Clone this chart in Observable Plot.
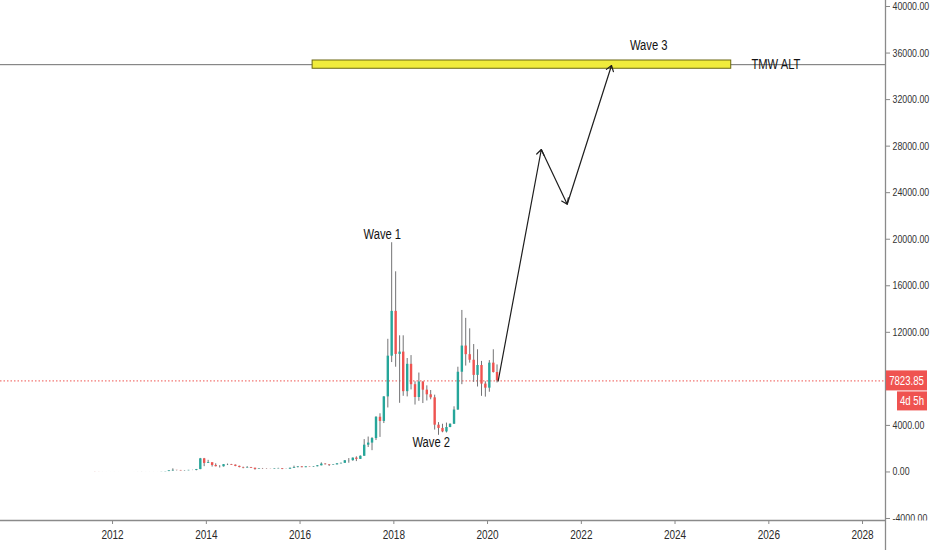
<!DOCTYPE html>
<html>
<head>
<meta charset="utf-8">
<script src="https://cdn.jsdelivr.net/npm/d3@7"></script>
<script src="https://cdn.jsdelivr.net/npm/@observablehq/plot@0.6"></script>
<style>
  html, body { margin: 0; padding: 0; background: #fff; }
  #chart { width: 932px; height: 550px; overflow: hidden; }
</style>
</head>
<body>
<div id="chart"></div>
<script>
// monthly candles, Aug 2011 .. Mar 2020
const firstMonth = "2011-08-01"
const lastMonth = "2020-04-01"

const open = [
  13.4, 8.2, 5.1, 3.2, 3.0,
  4.7, 5.5, 4.9, 4.9, 5.0, 5.2, 6.7, 9.3, 10.2, 12.4, 11.2, 12.6,
  13.5, 20.4, 33.4, 93, 139, 129, 97, 106, 135, 133, 204, 1129,
  732, 800, 560, 450, 445, 627, 640, 585, 480, 386, 338, 378,
  320, 218, 254, 244, 236, 230, 263, 284, 230, 236, 314, 377,
  430, 368, 437, 416, 448, 530, 673, 624, 573, 608, 700, 742,
  963, 970, 1190, 1080, 1348, 2300, 2480, 2870, 4700, 4340, 6450, 9950,
  13800, 10100, 10300, 6900, 9250, 7500, 6400, 7730, 7030, 6630, 6370, 4020,
  3740, 3440, 3820, 4100, 5320, 8570, 10820, 10080, 9600, 8300, 9150, 7550,
  7200, 9350, 8550
]
const high = [
  13.5, 8.6, 5.4, 3.5, 4.8,
  7.4, 6.3, 5.4, 5.3, 5.2, 6.7, 9.6, 15.4, 12.8, 12.8, 12.9, 13.8,
  21, 33.4, 95, 266, 140, 130, 111, 135, 146, 215, 1163, 1163,
  1000, 710, 700, 540, 630, 680, 650, 600, 500, 410, 460, 390,
  320, 280, 300, 260, 247, 267, 317, 285, 247, 334, 500, 465,
  462, 440, 440, 466, 550, 780, 705, 626, 630, 720, 755, 975,
  1150, 1200, 1300, 1380, 2780, 3000, 2950, 4750, 5000, 6470, 11400, 19700,
  17200, 11700, 11700, 9750, 10000, 7750, 8500, 7760, 7400, 7000, 6600, 4240,
  4100, 4200, 4130, 5600, 9000, 13880, 13200, 12300, 10950, 10500, 9500, 7750,
  9570, 10500, 9200
]
const low = [
  7.0, 4.7, 2.1, 2.0, 2.8,
  4.6, 4.2, 4.6, 4.7, 4.9, 5.2, 6.5, 7.1, 10.2, 9.8, 10.0, 12.2,
  13.1, 19.1, 33, 50, 86, 88, 65, 101, 117, 98, 196, 455,
  730, 420, 440, 340, 420, 550, 570, 450, 350, 275, 320, 300,
  152, 212, 235, 214, 226, 220, 253, 198, 225, 236, 300, 350,
  360, 366, 404, 412, 440, 520, 600, 470, 570, 605, 680, 742,
  750, 920, 890, 1070, 1350, 2100, 1830, 2700, 2970, 4160, 5500, 9400,
  9000, 5900, 6500, 6450, 7050, 5750, 6070, 5880, 6100, 6200, 3600, 3150,
  3370, 3350, 3800, 4080, 5300, 7500, 9100, 9350, 7700, 7300, 6500, 6430,
  6850, 8500, 7650
]
const close = [
  8.2, 5.1, 3.2, 3.0, 4.7,
  5.5, 4.9, 4.9, 5.0, 5.2, 6.7, 9.3, 10.2, 12.4, 11.2, 12.6, 13.5,
  20.4, 33.4, 93, 139, 129, 97, 106, 135, 133, 204, 1129, 732,
  800, 560, 450, 445, 627, 640, 585, 480, 386, 338, 378, 320,
  218, 254, 244, 236, 230, 263, 284, 230, 236, 314, 377, 430,
  368, 437, 416, 448, 530, 673, 624, 573, 608, 700, 742, 963,
  970, 1190, 1080, 1348, 2300, 2480, 2870, 4700, 4340, 6450, 9950, 13800,
  10100, 10300, 6900, 9250, 7500, 6400, 7730, 7030, 6630, 6370, 4020, 3740,
  3440, 3820, 4100, 5320, 8570, 10820, 10080, 9600, 8300, 9150, 7550, 7200,
  9350, 8550, 7823.85
]

const lastPrice = 7823.85
const timeLeft = "4d 5h"

// drawings
const zoneLevel = 35000
const zoneStart = "2016-04-08", zoneEnd = "2025-03-14"
const zoneLow = 34650, zoneHigh = 35360

const pathDates = ["2020-03-24", "2021-02-23", "2021-09-13", "2022-08-24"]
const pathValues = [7823.85, 27710, 23010, 34930]

const labelTexts = ["Wave 1", "Wave 2", "Wave 3"]
const labelDates = ["2017-10-03", "2018-10-19", "2023-06-10"]
const labelValues = [20400, 2560, 36650]

const levelName = "TMW ALT"
const levelNameDate = "2025-08-18"

const xTickYears = [2012, 2014, 2016, 2018, 2020, 2022, 2024, 2026, 2028]
const yTicks = [-4000, 0, 4000, 12000, 16000, 20000, 24000, 28000, 32000, 36000, 40000]

// build tables
const monthStarts = d3.utcMonth.range(new Date(firstMonth), new Date(lastMonth))
const candles = monthStarts.map((m, i) => ({
  date: d3.utcDay.offset(m, 14),
  open: open[i], high: high[i], low: low[i], close: close[i],
  up: close[i] >= open[i]
}))
const segments = pathDates.slice(1).map((d, i) => ({
  x1: new Date(pathDates[i]), y1: pathValues[i],
  x2: new Date(d), y2: pathValues[i + 1]
}))
const labels = labelTexts.map((t, i) => ({text: t, date: new Date(labelDates[i]), value: labelValues[i]}))

const font = "'Liberation Sans', Arial, sans-serif"

let chart = Plot.plot({
  width: 932,
  height: 550,
  marginLeft: 0,
  marginRight: 47,
  marginTop: 0,
  marginBottom: 30,
  style: {background: "#fff", fontFamily: font, overflow: "visible"},
  x: {type: "utc", domain: [new Date("2009-08-11"), new Date("2028-06-28")]},
  y: {domain: [-4172, 40516]},
  marks: [
    Plot.ruleY([zoneLevel], {stroke: "#6e6e6e", strokeWidth: 1}),
    Plot.rect([{x1: new Date(zoneStart), x2: new Date(zoneEnd), y1: zoneLow, y2: zoneHigh}],
      {x1: "x1", x2: "x2", y1: "y1", y2: "y2", fill: "#f0ec3c", stroke: "#6b6812", strokeWidth: 1}),
    Plot.ruleY([lastPrice], {stroke: "#ef5350", strokeWidth: 1, strokeDasharray: "1.5,2"}),

    // wicks + bodies
    Plot.ruleX(candles, {x: "date", y1: "low", y2: "high", stroke: "#737375", strokeWidth: 1}),
    Plot.ruleX(candles, {x: "date", y1: "open", y2: "close", strokeWidth: 2.4,
      stroke: d => d.up ? "#26a69a" : "#ef5350"}),

    Plot.arrow(segments, {x1: "x1", y1: "y1", x2: "x2", y2: "y2",
      stroke: "#1e1e1e", strokeWidth: 1.2, headLength: 8, headAngle: 70}),

    Plot.text(labels, {x: "date", y: "value", text: "text", fontSize: 14, fill: "#131313"}),
    Plot.text([levelName], {x: new Date(levelNameDate), y: zoneLevel, text: d => d,
      textAnchor: "start", fontSize: 14, fill: "#131313"}),

    Plot.axisX(xTickYears.map(y => new Date(Date.UTC(y, 0, 1))), {
      anchor: "bottom", tickFormat: "%Y", tickSize: 4, tickPadding: 6,
      fontSize: 12.5, fill: "#2a2a2a", stroke: "#888", label: null}),
    Plot.axisY(yTicks, {
      anchor: "right", tickFormat: d => d.toFixed(2), tickSize: 4, tickPadding: 3,
      fontSize: 11, fill: "#333", stroke: "#888", label: null}),
  ]
})

const svg = d3.select(chart)
const ys = chart.scale("y")
const py = ys.apply(lastPrice)

// price axis clipped under the time axis
svg.append("rect").attr("x", 886).attr("y", 520.5).attr("width", 46).attr("height", 30).attr("fill", "#fff")
// axis lines
svg.append("line").attr("x1", 0).attr("x2", 885.5).attr("y1", 520.5).attr("y2", 520.5)
  .attr("stroke", "#8a8a8a").attr("stroke-width", 1.3)
svg.append("line").attr("x1", 885.5).attr("x2", 885.5).attr("y1", 0).attr("y2", 550)
  .attr("stroke", "#8a8a8a").attr("stroke-width", 1.3)

// last price tags
const tag = svg.append("g").attr("font-family", font).attr("fill", "#fff")
tag.append("rect").attr("x", 886).attr("y", py - 10).attr("width", 41).attr("height", 20).attr("fill", "#ef5350")
tag.append("text").attr("x", 906.5).attr("y", py).attr("dy", "0.35em").attr("text-anchor", "middle")
  .attr("font-size", 12).attr("fill", "#fff").text(lastPrice.toFixed(2))
tag.append("rect").attr("x", 897).attr("y", py + 11).attr("width", 30).attr("height", 19).attr("fill", "#ef5350")
tag.append("text").attr("x", 912).attr("y", py + 20.5).attr("dy", "0.35em").attr("text-anchor", "middle")
  .attr("font-size", 12).attr("fill", "#fff").text(timeLeft)

d3.select('#chart').append(() => chart)

// the screenshot is squeezed sideways: narrow every label the same way
svg.selectAll("text").each(function () {
  const w = this.getComputedTextLength()
  if (w > 0) {
    this.setAttribute("textLength", (w * 0.8).toFixed(1))
    this.setAttribute("lengthAdjust", "spacingAndGlyphs")
  }
})
</script>
</body>
</html>
